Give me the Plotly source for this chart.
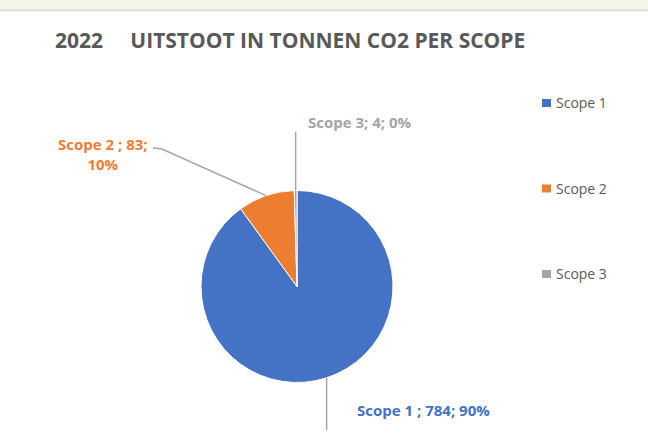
import math
import plotly.graph_objects as go

# ---- data ----
categories = ["Scope 1", "Scope 2", "Scope 3"]
values = [784, 83, 4]
label_names = ["Scope 1 ", "Scope 2 ", "Scope 3"]   # as written in the data labels
colors = ["#4472C4", "#ED7D31", "#A5A5A5"]
title_text = "2022\u00a0\u00a0\u00a0\u00a0 UITSTOOT IN TONNEN CO2 PER SCOPE"

W, H = 648, 446
def px(x):
    return x / W
def py(y):
    return 1 - y / H

# pie geometry (pixels)
cx, cy, r = 297, 286.5, 96

fig = go.Figure()
fig.add_trace(go.Pie(
    labels=categories, values=values, sort=False, direction="clockwise", rotation=0,
    marker=dict(colors=colors, line=dict(color="white", width=1)),
    textinfo="none", hoverinfo="label+value+percent", showlegend=False,
    domain=dict(x=[px(cx - r), px(cx + r)], y=[py(cy + r), py(cy - r)]),
))

total = sum(values)
cum = 0
mids = []
for v in values:
    mids.append(360 * (cum + v / 2) / total)
    cum += v
def edge(theta):
    t = math.radians(theta)
    return cx + r * math.sin(t), cy - r * math.cos(t)

shapes = [
    dict(type="rect", xref="paper", yref="paper", x0=0, x1=1, y0=py(10), y1=1,
         fillcolor="#F5F5E8", line=dict(width=0), layer="below"),
    dict(type="line", xref="paper", yref="paper", x0=0, x1=1, y0=py(10.5), y1=py(10.5),
         line=dict(color="#D6D6D0", width=1.5)),
]
line_style = dict(color="#A6A6A6", width=1.5)
# Scope 1 leader (vertical down)
x1, y1 = edge(mids[0])
shapes.append(dict(type="line", xref="paper", yref="paper", x0=px(x1), y0=py(y1),
                   x1=px(x1), y1=py(430), line=line_style))
# Scope 2 leader (diagonal then short horizontal)
x2, y2 = edge(mids[1])
shapes.append(dict(type="path", xref="paper", yref="paper",
                   path=f"M {px(x2)} {py(y2)} L {px(162)} {py(149)} L {px(153)} {py(148)}",
                   line=line_style))
# Scope 3 leader (vertical up)
x3, y3 = edge(mids[2])
shapes.append(dict(type="line", xref="paper", yref="paper", x0=px(x3), y0=py(y3),
                   x1=px(x3), y1=py(132), line=line_style))

pcts = [round(100 * v / total) for v in values]
lab_font = dict(family="Open Sans", size=15, weight="bold")
annotations = [
    dict(text=title_text, x=px(53), y=py(40), xref="paper", yref="paper",
         xanchor="left", yanchor="middle", showarrow=False,
         font=dict(family="Open Sans", size=21, weight="bold", color="#595959")),
    dict(text=f"{label_names[0]}; {values[0]}; {pcts[0]}%", x=px(355), y=py(410),
         xref="paper", yref="paper", xanchor="left", yanchor="middle", showarrow=False,
         font=dict(lab_font, color=colors[0])),
    dict(text=f"{label_names[1]}; {values[1]};<br>{pcts[1]}%", x=px(103), y=py(154),
         xref="paper", yref="paper", xanchor="center", yanchor="middle", align="center",
         showarrow=False, font=dict(lab_font, color=colors[1])),
    dict(text=f"{label_names[2]}; {values[2]}; {pcts[2]}%", x=px(306), y=py(122),
         xref="paper", yref="paper", xanchor="left", yanchor="middle", showarrow=False,
         font=dict(lab_font, color=colors[2])),
]

# legend (swatch + text), stacked at the right
legend_y = [102.5, 188, 273.5]
for name, col, ly in zip(categories, colors, legend_y):
    shapes.append(dict(type="rect", xref="paper", yref="paper",
                       x0=px(542), x1=px(551), y0=py(ly - 3.5), y1=py(ly + 4.5),
                       fillcolor=col, line=dict(width=0)))
    annotations.append(dict(text=name, x=px(554), y=py(ly), xref="paper", yref="paper",
                            xanchor="left", yanchor="middle", showarrow=False,
                            font=dict(family="Open Sans", size=14, color="#595959")))

fig.update_layout(
    width=W, height=H, margin=dict(l=0, r=0, t=0, b=0),
    paper_bgcolor="white", plot_bgcolor="white",
    shapes=shapes, annotations=annotations,
    showlegend=False,
)
fig.write_html("out.html", config={"displayModeBar": False},
               post_script="document.body.style.margin='0';document.body.style.overflow='hidden';")
